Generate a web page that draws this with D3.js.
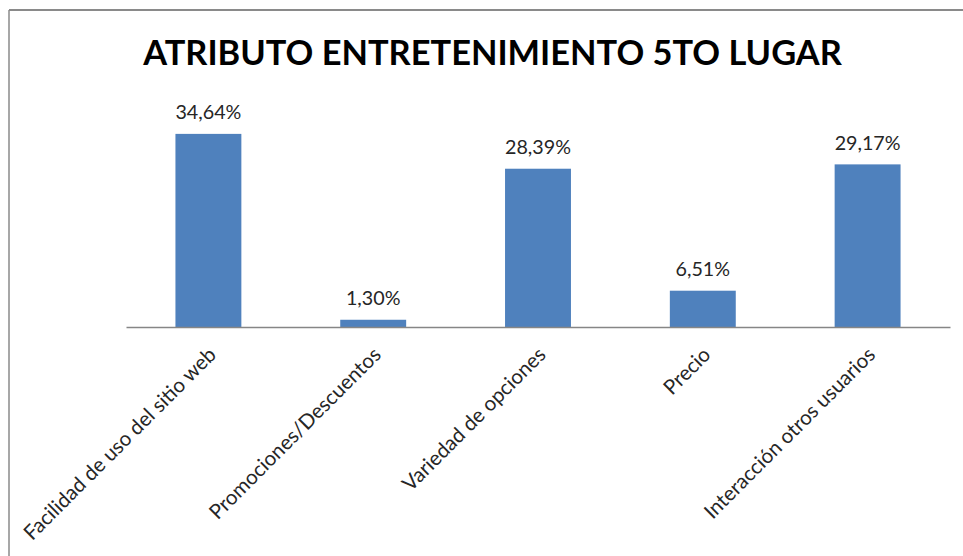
<!DOCTYPE html>
<html>
<head>
<meta charset="utf-8">
<script src="https://cdn.jsdelivr.net/npm/d3@7"></script>
<style>
  html, body { margin: 0; padding: 0; background: #fff; }
  svg { display: block; }
</style>
</head>
<body>
<svg id="chart" width="963" height="556"></svg>
<script>
const title = "ATRIBUTO ENTRETENIMIENTO 5TO LUGAR";
const categories = [
  "Facilidad de uso del sitio web",
  "Promociones/Descuentos",
  "Variedad de opciones",
  "Precio",
  "Interacción otros usuarios"
];
const values = [34.64, 1.30, 28.39, 6.51, 29.17];
const valueLabels = ["34,64%", "1,30%", "28,39%", "6,51%", "29,17%"];
const yDomain = [0, 40];

const W = 963, H = 556;
const FONT = "Lato, 'Open Sans', sans-serif";
const svg = d3.select("#chart");

function fitSize(text, weight, target) {
  const t = svg.append("text").attr("font-family", FONT).attr("font-weight", weight)
    .attr("font-size", 100).text(text);
  const len = t.node().getComputedTextLength();
  t.remove();
  return 100 * target / len;
}

const plot = { left: 126, right: 950, top: 104, bottom: 327 };

const x = d3.scaleBand().domain(categories)
  .range([plot.left, plot.right]).paddingInner(0.6).paddingOuter(0.3);
const y = d3.scaleLinear().domain(yDomain).range([plot.bottom, plot.top]);

// frame (top and left edges visible)
svg.append("line").attr("x1", 9).attr("x2", W).attr("y1", 10).attr("y2", 10)
  .attr("stroke", "#8a8a8a").attr("stroke-width", 2);
svg.append("line").attr("x1", 9).attr("x2", 9).attr("y1", 10).attr("y2", H)
  .attr("stroke", "#8a8a8a").attr("stroke-width", 1.5);

// title
const titleSize = fitSize(title, "bold", 699);
svg.append("text").attr("x", 492.5).attr("y", 65)
  .attr("text-anchor", "middle").attr("font-family", FONT).attr("font-weight", "bold")
  .attr("font-size", titleSize).attr("fill", "#000").text(title);

// bars
svg.append("g").selectAll("rect").data(values).join("rect")
  .attr("x", (d, i) => x(categories[i]))
  .attr("width", x.bandwidth())
  .attr("y", d => y(d))
  .attr("height", d => y(0) - y(d))
  .attr("fill", "#4F81BD");

// value labels
const valSize = fitSize("34,64%", "normal", 66);
svg.append("g").selectAll("text").data(values).join("text")
  .attr("x", (d, i) => x(categories[i]) + x.bandwidth() / 2)
  .attr("y", d => y(d) - 14.5)
  .attr("text-anchor", "middle").attr("font-family", FONT)
  .attr("font-size", valSize).attr("fill", "#262626")
  .text((d, i) => valueLabels[i]);

// x axis
const xAxis = d3.axisBottom(x).tickSize(0).tickPadding(0);
const gx = svg.append("g").attr("transform", `translate(0,${plot.bottom})`).call(xAxis);
gx.select(".domain").attr("stroke", "#868686").attr("stroke-width", 1.5);
const labSize = fitSize(categories[0], "normal", 262);
gx.selectAll(".tick text")
  .attr("font-family", FONT).attr("font-size", labSize).attr("fill", "#262626")
  .attr("text-anchor", "end").attr("dy", null).attr("y", null)
  .attr("transform", "translate(9,29) rotate(-45)");
</script>
</body>
</html>
